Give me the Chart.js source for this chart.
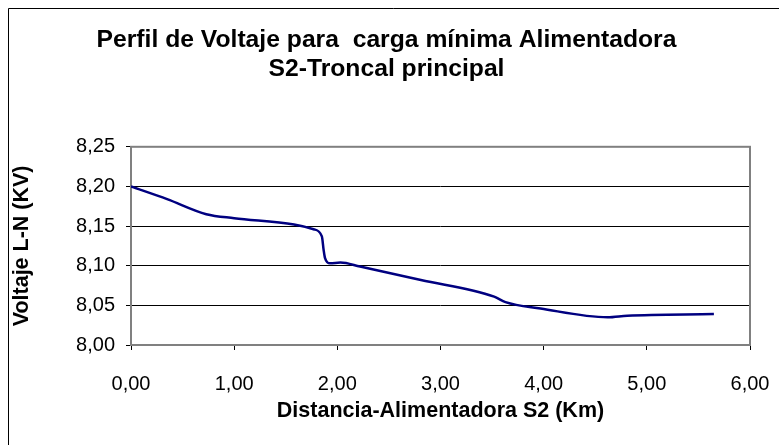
<!DOCTYPE html>
<html>
<head>
<meta charset="utf-8">
<script src="https://cdn.jsdelivr.net/npm/chart.js@4/dist/chart.umd.min.js"></script>
<style>
  html, body { margin: 0; padding: 0; background: #ffffff; }
  #wrap { width: 779px; height: 445px; position: relative; }
</style>
</head>
<body>
<div id="wrap"><canvas id="perfil" width="779" height="445"></canvas></div>
<script>
// Distancia a lo largo de la troncal (km) y voltaje fase-neutro (kV)
const distanciaKm = [0.00, 0.35, 0.73, 1.00, 1.58, 1.77, 1.85, 1.867, 1.88, 1.93, 2.03, 2.22, 2.81, 3.52, 3.63, 3.97, 4.62, 4.81, 5.65];
const voltajeKV   = [8.200, 8.184, 8.165, 8.160, 8.152, 8.146, 8.137, 8.120, 8.110, 8.103, 8.104, 8.099, 8.082, 8.061, 8.054, 8.046, 8.035, 8.037, 8.039];

const ticksX = [0, 1, 2, 3, 4, 5, 6];
const ticksY = [8.00, 8.05, 8.10, 8.15, 8.20, 8.25];

const tituloLineas = ['Perfil de Voltaje para  carga mínima Alimentadora', 'S2-Troncal principal'];
const tituloEjeX = 'Distancia-Alimentadora S2 (Km)';
const tituloEjeY = 'Voltaje L-N (KV)';

const FUENTE = "'Liberation Sans', Arial, sans-serif";
const formato = v => Number(v).toFixed(2).replace('.', ',');

// Marco exterior (solo arriba e izquierda) y marco gris del área de trazado
const marcoPlugin = {
  id: 'marco',
  beforeDraw(chart) {
    const ctx = chart.ctx;
    ctx.save();
    ctx.fillStyle = '#ffffff';
    ctx.fillRect(0, 0, chart.width, chart.height);
    ctx.strokeStyle = '#000000';
    ctx.lineWidth = 1;
    ctx.beginPath();
    ctx.moveTo(8.5, chart.height);
    ctx.lineTo(8.5, 8.5);
    ctx.lineTo(chart.width, 8.5);
    ctx.stroke();
    ctx.restore();
  },
  beforeDatasetsDraw(chart) {
    const { left, top, right, bottom } = chart.chartArea;
    const ctx = chart.ctx;
    ctx.save();
    ctx.strokeStyle = '#808080';
    ctx.lineWidth = 2;
    ctx.strokeRect(left, top, right - left, bottom - top);
    ctx.restore();
  }
};

new Chart(document.getElementById('perfil'), {
  type: 'line',
  data: {
    datasets: [{
      label: tituloEjeY,
      data: distanciaKm.map((d, i) => ({ x: d, y: voltajeKV[i] })),
      borderColor: '#000080',
      borderWidth: 2.5,
      pointRadius: 0,
      fill: false,
      cubicInterpolationMode: 'monotone'
    }]
  },
  options: {
    responsive: false,
    animation: false,
    devicePixelRatio: 1,
    layout: { padding: { left: 23, right: 29, top: 0, bottom: 21 } },
    plugins: {
      legend: { display: false },
      tooltip: { enabled: false },
      title: {
        display: true,
        text: tituloLineas,
        color: '#000000',
        font: { family: FUENTE, size: 24.7, weight: 'bold', lineHeight: 1.17 },
        padding: { top: 26, bottom: 63 }
      }
    },
    scales: {
      x: {
        type: 'linear',
        min: 0,
        max: 6,
        afterBuildTicks: s => { s.ticks = ticksX.map(v => ({ value: v })); },
        afterFit: s => { s.height = 79; s.paddingLeft = 0; s.paddingRight = 0; },
        border: { display: false },
        grid: { drawOnChartArea: false, drawTicks: true, tickLength: 5, tickColor: '#000000', color: '#000000' },
        ticks: { padding: 22, color: '#000000', maxRotation: 0, autoSkip: false,
                 font: { family: FUENTE, size: 20 }, callback: v => formato(v) },
        title: { display: true, text: tituloEjeX, color: '#000000', padding: { top: 0, bottom: 0 },
                 font: { family: FUENTE, size: 21.5, weight: 'bold', lineHeight: 1.2 } }
      },
      y: {
        type: 'linear',
        min: 8.00,
        max: 8.25,
        afterBuildTicks: s => { s.ticks = ticksY.map(v => ({ value: v })); },
        afterFit: s => { s.width = 108; },
        border: { display: false },
        grid: { color: '#000000', lineWidth: 1, drawTicks: true, tickLength: 5, tickColor: '#000000' },
        ticks: { padding: 11, color: '#000000', autoSkip: false,
                 font: { family: FUENTE, size: 20 }, callback: v => formato(v) },
        title: { display: true, text: tituloEjeY, color: '#000000', padding: { top: -13.9, bottom: 0 },
                 font: { family: FUENTE, size: 21.5, weight: 'bold', lineHeight: 1.2 } }
      }
    }
  },
  plugins: [marcoPlugin]
});
</script>
</body>
</html>
